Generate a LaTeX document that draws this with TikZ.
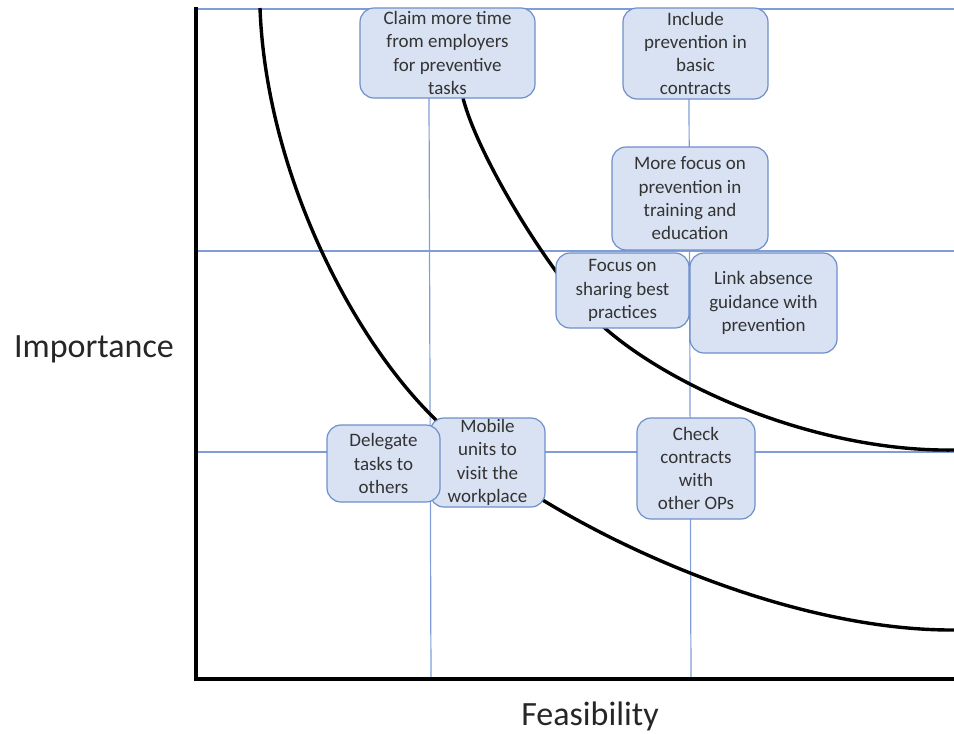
\documentclass[tikz,border=0pt]{standalone}
\usepackage{fontspec}
\setmainfont{Carlito}
\definecolor{boxfill}{HTML}{D9E2F3}
\definecolor{boxline}{HTML}{6F8FCB}
\definecolor{gridblue}{HTML}{7F9ED8}
\definecolor{txt}{HTML}{333333}
\tikzset{
  idea/.style={draw=boxline, fill=boxfill, line width=1.2pt, rounded corners=14pt,
    align=center, inner sep=0pt, text=txt, font=\fontsize{19}{23.3}\selectfont},
  gridline/.style={gridblue, line width=1.2pt},
  curve/.style={black, line width=3.4pt},
  axis/.style={black, line width=3.6pt, line join=miter},
  axislabel/.style={text=black!85, font=\fontsize{34}{40}\selectfont}
}
\begin{document}
\begin{tikzpicture}[x=1pt,y=-1pt]
\useasboundingbox (0,0) rectangle (954,734);
% axes end points
\coordinate (ytop) at (196,7);
\coordinate (O) at (196,679);
\coordinate (xend) at (954,679);
% grid lines
\coordinate (h1a) at (196,9);   \coordinate (h1b) at (954,9);
\coordinate (h2a) at (196,251); \coordinate (h2b) at (954,251);
\coordinate (h3a) at (196,452); \coordinate (h3b) at (954,452);
\coordinate (v1a) at (429,98);  \coordinate (v1b) at (431,679);
\coordinate (v2a) at (689,98);  \coordinate (v2b) at (691,679);
\draw[gridline] (h1a) -- (h1b);
\draw[gridline] (h2a) -- (h2b);
\draw[gridline] (h3a) -- (h3b);
\draw[gridline] (v1a) -- (v1b);
\draw[gridline] (v2a) -- (v2b);
% indifference curves
\coordinate (c1a) at (260,8);  \coordinate (c1m) at (433,417); \coordinate (c1b) at (954,630);
\coordinate (c2a) at (463,98); \coordinate (c2m) at (607,330); \coordinate (c2b) at (954,450);
\draw[curve] (c1a) .. controls (266,170) and (350,335) .. (c1m)
                   .. controls (533,517) and (770,631) .. (c1b);
\draw[curve] (c2a) .. controls (478,158) and (557,287) .. (c2m)
                   .. controls (677,390) and (820,452) .. (c2b);
\draw[axis] (ytop) -- (O) -- (xend);
% measures
\node[idea, minimum width=175, minimum height=90] (claim) at (447.5,53) {Claim more time\\from employers\\for preventive\\tasks};
\node[idea, minimum width=145, minimum height=91] (include) at (695.5,53.5) {Include\\prevention in\\basic\\contracts};
\node[idea, minimum width=156, minimum height=103] (training) at (690,198.5) {More focus on\\prevention in\\training and\\education};
\node[idea, minimum width=133, minimum height=75] (sharing) at (622.5,290.5) {Focus on\\sharing best\\practices};
\node[idea, minimum width=147, minimum height=100] (absence) at (763.5,303) {Link absence\\guidance with\\prevention};
\node[idea, minimum width=115, minimum height=89] (mobile) at (487.5,462.5) {Mobile\\units to\\visit the\\workplace};
\node[idea, minimum width=113, minimum height=77] (delegate) at (383.5,463.5) {Delegate\\tasks to\\others};
\node[idea, minimum width=118, minimum height=101] (check) at (696,468.5) {Check\\contracts\\with\\other OPs};
% axis labels
\node[axislabel] (importance) at (94,349) {Importance};
\node[axislabel] (feasibility) at (590,716) {Feasibility};
\end{tikzpicture}
\end{document}
